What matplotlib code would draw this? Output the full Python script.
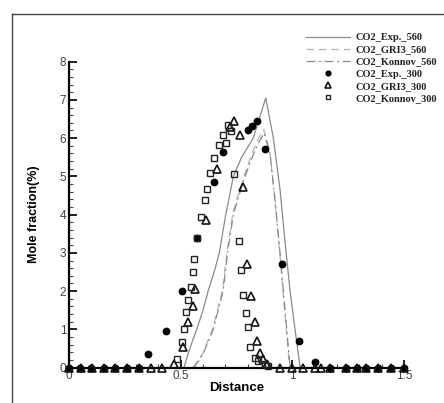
import matplotlib
matplotlib.use("Agg")
import matplotlib.pyplot as plt
from matplotlib.lines import Line2D
from matplotlib.ticker import MultipleLocator

# ---- data ----
exp560_x = [0.515, 0.53, 0.55, 0.572, 0.60, 0.623, 0.65, 0.673, 0.702, 0.736, 0.773, 0.825, 0.881, 0.915, 0.945, 0.967, 0.99, 1.012, 1.035]
exp560_y = [0.0, 0.3, 0.65, 1.0, 1.5, 2.0, 2.5, 3.0, 4.0, 5.0, 5.5, 6.0, 7.05, 6.0, 4.65, 3.3, 2.0, 1.0, 0.0]

gri560_x = [0.555, 0.60, 0.645, 0.688, 0.708, 0.734, 0.772, 0.81, 0.84, 0.872, 0.898, 0.92, 0.943, 0.958, 0.973, 0.988]
gri560_y = [0.0, 0.38, 1.05, 2.05, 3.05, 4.05, 4.8, 5.45, 5.9, 6.22, 5.7, 4.5, 3.05, 2.0, 1.0, 0.0]

konnov560_x = [0.56, 0.60, 0.646, 0.69, 0.71, 0.736, 0.773, 0.81, 0.84, 0.873, 0.90, 0.922, 0.945, 0.96, 0.975, 0.99]
konnov560_y = [0.0, 0.35, 1.0, 2.0, 3.0, 4.0, 4.73, 5.35, 5.78, 6.13, 5.6, 4.4, 3.0, 2.0, 1.0, 0.0]

exp300_x = [0.0, 0.05, 0.10, 0.155, 0.205, 0.26, 0.315, 0.354, 0.433, 0.505, 0.575, 0.648, 0.69, 0.803, 0.821,
            0.84, 0.876, 0.952, 1.031, 1.10, 1.17, 1.24, 1.29, 1.33, 1.385, 1.44, 1.50]
exp300_y = [0.0, 0.0, 0.0, 0.0, 0.0, 0.0, 0.0, 0.36, 0.97, 1.99, 3.38, 4.85, 5.65, 6.22, 6.32,
            6.44, 5.71, 2.70, 0.70, 0.15, 0.0, 0.0, 0.0, 0.0, 0.0, 0.0, 0.0]

gri300_x = [0.0, 0.055, 0.103, 0.155, 0.204, 0.26, 0.315, 0.368, 0.416, 0.469, 0.512, 0.534, 0.554, 0.564,
            0.612, 0.661, 0.72, 0.739, 0.766, 0.781, 0.796, 0.814, 0.833, 0.843, 0.855, 0.870, 0.885,
            0.945, 0.997, 1.05, 1.10, 1.13, 1.17, 1.24, 1.29, 1.33, 1.385, 1.44, 1.50]
gri300_y = [0.0, 0.0, 0.0, 0.0, 0.0, 0.0, 0.0, 0.0, 0.0, 0.09, 0.53, 1.20, 1.60, 2.06,
            3.86, 5.20, 6.30, 6.46, 6.09, 4.72, 2.70, 1.86, 1.20, 0.70, 0.37, 0.22, 0.09,
            0.0, 0.0, 0.0, 0.0, 0.0, 0.0, 0.0, 0.0, 0.0, 0.0, 0.0, 0.0]

konnov300_x = [0.482, 0.505, 0.514, 0.524, 0.534, 0.545, 0.554, 0.561, 0.575, 0.590, 0.609, 0.619, 0.631,
               0.651, 0.673, 0.688, 0.703, 0.713, 0.724, 0.740, 0.763, 0.769, 0.781, 0.793, 0.800,
               0.811, 0.833, 0.848, 0.878, 0.893]
konnov300_y = [0.22, 0.68, 1.01, 1.46, 1.77, 2.12, 2.49, 2.84, 3.38, 3.93, 4.37, 4.68, 5.09,
               5.48, 5.81, 6.09, 5.87, 6.35, 6.18, 5.06, 3.30, 2.55, 1.90, 1.44, 1.07,
               0.53, 0.24, 0.18, 0.09, 0.04]

labels = ["CO2_Exp._560", "CO2_GRI3_560", "CO2_Konnov_560",
          "CO2_Exp._300", "CO2_GRI3_300", "CO2_Konnov_300"]

fig = plt.figure(figsize=(4.44, 4.03), dpi=100)
ax = fig.add_axes([0.1554, 0.0878, 0.7545, 0.7593])

# partial frame of the figure (top and left border)
fig.add_artist(Line2D([12/444, 1.0], [1 - 13.5/403, 1 - 13.5/403], color="#444444", lw=1.0,
                      transform=fig.transFigure))
fig.add_artist(Line2D([12/444, 12/444], [0.0, 1 - 13.5/403], color="#444444", lw=1.0,
                      transform=fig.transFigure))

lc = "#8a8a8a"
h_exp560, = ax.plot(exp560_x, exp560_y, color=lc, lw=0.9, ls="-")
h_gri560, = ax.plot(gri560_x, gri560_y, color="#b5b5b5", lw=0.9, ls=(0, (6, 4)))
h_kon560, = ax.plot(konnov560_x, konnov560_y, color=lc, lw=0.9, ls=(0, (7, 3, 1.5, 3)))

h_exp300, = ax.plot(exp300_x, exp300_y, ls="none", marker="o", ms=4.6, mfc="black", mec="black",
                    clip_on=False, zorder=3)
h_gri300, = ax.plot(gri300_x, gri300_y, ls="none", marker="^", ms=6, mfc="none", mec="#111111", mew=1.2,
                    clip_on=False, zorder=4)
h_kon300, = ax.plot(konnov300_x, konnov300_y, ls="none", marker="s", ms=4.8, mfc="none", mec="#222222",
                    mew=1.0, clip_on=False, zorder=4)

ax.set_xlim(0, 1.5)
ax.set_ylim(0, 8)
for s in ["top", "right"]:
    ax.spines[s].set_visible(False)
ax.spines["left"].set_linewidth(1.6)
ax.spines["bottom"].set_linewidth(1.6)

ax.xaxis.set_minor_locator(MultipleLocator(0.1))
ax.yaxis.set_major_locator(MultipleLocator(1))
ax.yaxis.set_minor_locator(MultipleLocator(0.2))
ax.set_xticks([0, 0.5, 1, 1.5])
ax.set_xticklabels(["0", "0.5", "1", "1.5"])
ax.tick_params(axis="both", which="major", direction="in", length=6, width=1.4,
               labelsize=8.5, colors="#222222", pad=2)
ax.tick_params(axis="both", which="minor", direction="in", length=3, width=0.8, colors="#444444")
for lab in ax.get_xticklabels() + ax.get_yticklabels():
    lab.set_family("Liberation Sans")
    lab.set_color("#444444")

ax.set_xlabel("Distance", fontsize=9.5, fontweight="bold", family="Liberation Sans", labelpad=0)
ax.set_ylabel("Mole fraction(%)", fontsize=9, fontweight="bold", family="Liberation Sans", labelpad=14)

handles = [h_exp560, h_gri560, h_kon560, h_exp300, h_gri300, h_kon300]
leg = fig.legend(handles, labels, loc="upper left",
                 bbox_to_anchor=(306/444, 1 - 33/403), frameon=False, borderpad=0, borderaxespad=0,
                 prop={"family": "Liberation Serif", "weight": "bold", "size": 7.5},
                 handlelength=4.2, handletextpad=0.6, labelspacing=0.27, markerscale=0.75)
for t in leg.get_texts():
    t.set_color("#222222")

fig.savefig("out.png", dpi=100)
